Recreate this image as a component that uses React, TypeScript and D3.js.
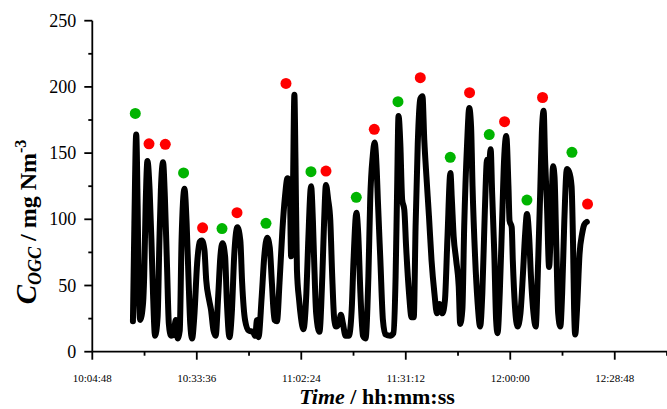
import React from "react";
import * as d3 from "d3";

const W = 667;
const H = 409;

// Time axis: minutes after 10:00:00
const timeMin = [
  16.0, 16.4, 16.9, 17.3, 17.6, 18.0, 18.8, 19.1, 19.5, 20.0,
  20.6, 21.1, 21.5, 22.1, 22.8, 23.3, 23.7, 24.3, 24.8, 25.4,
  25.9, 26.5, 27.2, 27.8, 28.3, 28.9, 29.4, 30.2, 30.8, 31.3,
  31.8, 32.3, 32.9, 33.7, 34.4, 35.0, 35.7, 36.2, 37.0, 37.5,
  38.2, 38.8, 39.5, 40.1, 40.7, 41.4, 41.9, 42.6, 43.3, 43.9,
  44.8, 45.6, 46.1, 46.9, 47.9, 49.1, 49.7, 50.2, 50.6, 51.5,
  52.2, 53.0, 53.7, 54.3, 55.0, 55.7, 56.4, 57.2, 57.9, 58.6,
  59.2, 59.6, 60.1, 60.5, 60.8, 61.2, 61.8, 62.3, 63.0, 63.8,
  64.3, 65.1, 65.6, 66.0, 66.5, 67.4, 68.2, 68.7, 69.2, 69.8,
  70.4, 70.9, 71.5, 72.0, 72.8, 73.3, 73.9, 74.6, 75.5, 76.3,
  76.8, 77.6, 78.1, 78.7, 79.4, 80.1, 80.9, 81.4, 82.1, 82.6,
  83.2, 83.5, 84.2, 84.9, 85.6, 86.9, 87.8, 88.4, 88.8, 89.2,
  89.7, 90.2, 90.8, 91.3, 92.1, 92.8, 93.4, 93.9, 94.5, 95.2,
  95.8, 96.3, 96.9, 97.6, 98.3, 99.1, 99.8, 100.5, 101.3, 102.0,
  102.7, 103.5, 103.9, 104.4, 105.1, 105.8, 106.2, 106.8, 107.3, 108.1,
  108.7, 109.2, 109.6, 110.3, 111.0, 111.7, 112.3, 113.0, 113.6, 114.1,
  114.6, 115.0, 115.6, 116.1, 116.5, 117.1, 117.7, 118.3, 118.9, 119.5,
  119.8, 120.4, 120.7, 121.3, 122.0, 122.8, 123.5, 124.1, 124.6, 125.2,
  125.7, 126.4, 127.0, 127.7, 128.3, 128.7, 129.2, 129.6, 130.1, 130.7,
  131.2, 131.8, 132.2, 132.7, 133.2, 133.8, 134.3, 134.9, 135.6, 136.2,
  136.9, 137.3, 137.6, 137.9, 138.4, 139.1, 139.8, 140.4, 141.1,
];

// C_OGC in mg Nm^-3
const cogc = [
  23, 97, 164, 110, 47, 24, 37, 57, 110, 144,
  122, 84, 47, 12, 26, 84, 122, 143, 117, 64,
  21, 12, 13, 24, 10, 16, 84, 123, 97, 57,
  21, 10, 26, 67, 83, 84, 77, 54, 39, 32,
  16, 12, 42, 72, 82, 72, 37, 11, 32, 72,
  94, 84, 52, 24, 16, 15, 12, 24, 11, 42,
  72, 86, 79, 52, 24, 23, 52, 92, 117, 131,
  129, 72, 122, 194, 145, 62, 39, 26, 17, 44,
  82, 125, 99, 64, 29, 15, 57, 99, 126, 115,
  99, 59, 24, 19, 21, 28, 21, 12, 12, 32,
  69, 105, 89, 44, 12, 10, 57, 115, 148, 158,
  137, 115, 69, 24, 13, 12, 14, 57, 120, 178,
  157, 115, 107, 79, 44, 26, 26, 94, 157, 191,
  193, 160, 132, 102, 69, 44, 29, 36, 29, 39,
  87, 135, 115, 87, 69, 49, 21, 32, 94, 157,
  184, 170, 125, 72, 37, 19, 44, 107, 145, 140,
  153, 120, 74, 24, 14, 44, 94, 145, 163, 125,
  99, 94, 69, 34, 19, 29, 59, 89, 104, 87,
  57, 29, 19, 69, 125, 165, 182, 145, 112, 64,
  94, 140, 132, 79, 29, 19, 44, 99, 138, 136,
  125, 82, 32, 13, 32, 74, 89, 96, 98,
];

// marker dots
const greenTimes = [16.65, 29.96, 40.55, 52.67, 65.07, 77.56, 89.05, 103.46, 114.21, 124.6, 137.0];
const greenValues = [180, 135, 93, 97, 136, 116.6, 188.8, 146.8, 164, 114.5, 150.6];
const redTimes = [20.43, 24.92, 35.2, 44.68, 58.18, 69.21, 82.52, 95.2, 108.78, 118.43, 128.9, 141.3];
const redValues = [157, 156.6, 93.6, 105, 202.6, 136.4, 168, 207, 195.6, 173.7, 192, 111.5];

const yTicks = [0, 50, 100, 150, 200, 250];
const yMinorTicks = [25, 75, 125, 175, 225];
const xTickLabels = ["10:04:48", "10:33:36", "11:02:24", "11:31:12", "12:00:00", "12:28:48"];

const toMin = (s: string) => {
  const [h, m, sec] = s.split(":").map(Number);
  return (h - 10) * 60 + m + sec / 60;
};

const SERIF = "'Liberation Serif', 'Times New Roman', serif";

export default function App() {
  const xMajor = xTickLabels.map(toMin);
  const step = xMajor[1] - xMajor[0];
  const xMinor = xMajor.map((v) => v + step / 2);
  const x = d3.scaleLinear().domain([xMajor[0], xMajor[xMajor.length - 1] + step / 2]).range([92.3, 667]);
  const y = d3.scaleLinear().domain([0, 250]).range([351.7, 20.7]);

  const data: [number, number][] = timeMin
    .slice(0, Math.min(timeMin.length, cogc.length))
    .map((t, i) => [t, cogc[i]]);
  const line = d3
    .line<[number, number]>()
    .x((d) => x(d[0]))
    .y((d) => y(d[1]))
    .curve(d3.curveMonotoneX);

  const x0 = x.range()[0];
  const y0 = y.range()[0];

  return (
    <svg width={W} height={H} style={{ position: "absolute", left: 0, top: 0, background: "#fff" }}>
      <rect width={W} height={H} fill="#fff" />
      {/* curve */}
      <path d={line(data) || ""} fill="none" stroke="#000" strokeWidth={6} strokeLinejoin="round" strokeLinecap="round" />
      {/* markers */}
      {greenTimes.map((t, i) => (
        <circle key={"g" + i} cx={x(t)} cy={y(greenValues[i])} r={5.5} fill="#00b400" />
      ))}
      {redTimes.map((t, i) => (
        <circle key={"r" + i} cx={x(t)} cy={y(redValues[i])} r={5.5} fill="#ff0000" />
      ))}
      {/* axes */}
      <g stroke="#000" strokeWidth={1.8} fill="none">
        <line x1={x0} x2={x0} y1={y(250)} y2={y0} />
        <line x1={x0} x2={x.range()[1]} y1={y0} y2={y0} />
        {yTicks.map((v) => (
          <line key={"yt" + v} x1={x0 - 8} x2={x0} y1={y(v)} y2={y(v)} />
        ))}
        {yMinorTicks.map((v) => (
          <line key={"ym" + v} x1={x0 - 4} x2={x0} y1={y(v)} y2={y(v)} />
        ))}
        {xMajor.map((v) => (
          <line key={"xt" + v} x1={x(v)} x2={x(v)} y1={y0} y2={y0 + 8} />
        ))}
        {xMinor.map((v) => (
          <line key={"xm" + v} x1={x(v)} x2={x(v)} y1={y0} y2={y0 + 4} />
        ))}
      </g>
      <g fontFamily={SERIF} fill="#000">
        {yTicks.map((v) => (
          <text key={"yl" + v} x={x0 - 16} y={y(v)} textAnchor="end" dominantBaseline="central" fontSize={18}>
            {v}
          </text>
        ))}
        {xMajor.map((v, i) => (
          <text key={"xl" + v} x={x(v)} y={381.5} textAnchor="middle" fontSize={11}>
            {xTickLabels[i]}
          </text>
        ))}
        <text x={377} y={404} textAnchor="middle" fontSize={22} fontWeight="bold" style={{ whiteSpace: "pre" }}>
          <tspan fontStyle="italic">Time</tspan>
          <tspan>{" / hh:mm:ss"}</tspan>
        </text>
        <text
          transform="translate(36, 222) rotate(-90)"
          textAnchor="middle"
          fontWeight="bold"
          style={{ whiteSpace: "pre" }}
        >
          <tspan fontStyle="italic" fontSize={29}>C</tspan>
          <tspan fontStyle="italic" fontSize={18} dy={5}>OGC</tspan>
          <tspan fontSize={24} dy={-5}>{" / mg Nm"}</tspan>
          <tspan fontSize={16} dy={-10}>-3</tspan>
        </text>
      </g>
    </svg>
  );
}
